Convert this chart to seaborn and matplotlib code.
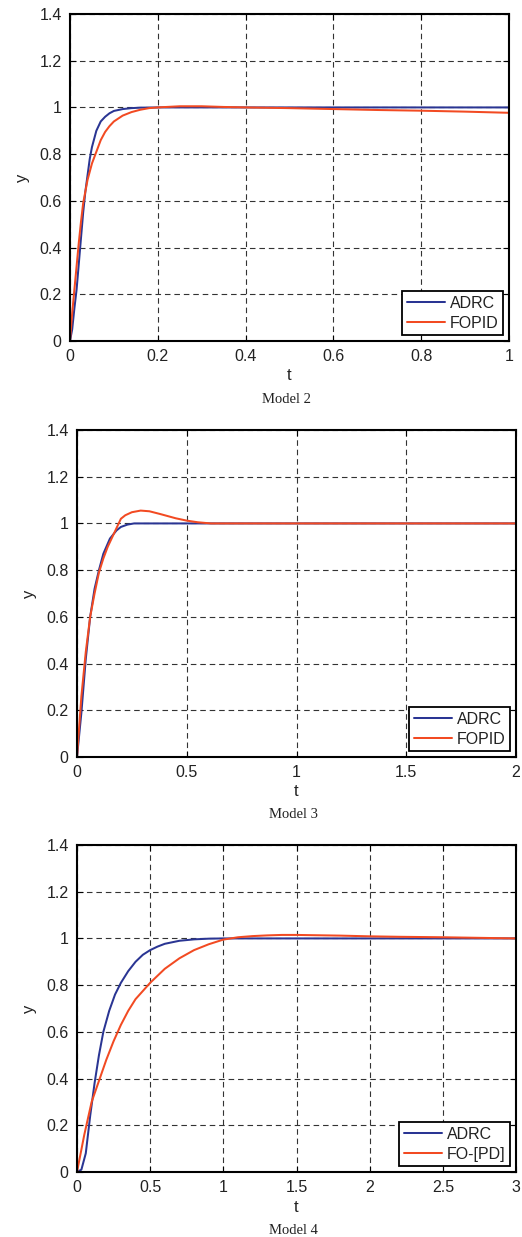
import numpy as np
import pandas as pd
import matplotlib
matplotlib.use("Agg")
import matplotlib.pyplot as plt
import seaborn as sns
from matplotlib.ticker import FormatStrFormatter

# ---------------- data ----------------
# Model 2
m2_t_adrc = [0, 0.005, 0.01, 0.015, 0.02, 0.025, 0.03, 0.035, 0.04, 0.045, 0.05, 0.06, 0.07,
             0.08, 0.09, 0.10, 0.12, 0.14, 0.16, 0.2, 0.3, 0.4, 0.6, 0.8, 1.0]
m2_y_adrc = [0, 0.05, 0.14, 0.22, 0.33, 0.44, 0.55, 0.64, 0.71, 0.78, 0.83, 0.90, 0.94,
             0.96, 0.975, 0.985, 0.993, 0.997, 0.999, 1.0, 1.0, 1.0, 1.0, 1.0, 1.0]
m2_t_fopid = [0, 0.005, 0.01, 0.015, 0.02, 0.025, 0.03, 0.04, 0.05, 0.06, 0.07, 0.08, 0.09,
              0.10, 0.12, 0.14, 0.16, 0.18, 0.2, 0.25, 0.3, 0.35, 0.4, 0.5, 0.6, 0.7, 0.8,
              0.9, 1.0]
m2_y_fopid = [0, 0.12, 0.22, 0.32, 0.42, 0.51, 0.59, 0.69, 0.76, 0.81, 0.86, 0.895, 0.92,
              0.94, 0.965, 0.98, 0.99, 0.997, 1.0, 1.005, 1.005, 1.002, 1.0, 0.997, 0.993,
              0.989, 0.986, 0.982, 0.977]

# Model 3
m3_t_adrc = [0, 0.02, 0.04, 0.06, 0.08, 0.1, 0.12, 0.15, 0.18, 0.2, 0.23, 0.26, 0.3, 0.5,
             1.0, 1.5, 2.0]
m3_y_adrc = [0, 0.19, 0.42, 0.6, 0.72, 0.8, 0.87, 0.935, 0.97, 0.985, 0.995, 1.0, 1.0, 1.0,
             1.0, 1.0, 1.0]
m3_t_fopid = [0, 0.02, 0.04, 0.06, 0.08, 0.1, 0.12, 0.14, 0.16, 0.18, 0.2, 0.22, 0.25, 0.29,
              0.33, 0.38, 0.45, 0.5, 0.55, 0.61, 0.8, 1.0, 1.5, 2.0]
m3_y_fopid = [0, 0.26, 0.45, 0.6, 0.7, 0.79, 0.85, 0.9, 0.94, 0.98, 1.02, 1.035, 1.048,
              1.055, 1.052, 1.04, 1.022, 1.012, 1.005, 1.0, 1.0, 1.0, 1.0, 1.0]

# Model 4
m4_t_adrc = [0, 0.03, 0.06, 0.09, 0.12, 0.15, 0.18, 0.22, 0.26, 0.3, 0.35, 0.4, 0.45, 0.5,
             0.55, 0.6, 0.7, 0.8, 0.9, 1.0, 1.5, 2.0, 2.5, 3.0]
m4_y_adrc = [0, 0.01, 0.08, 0.24, 0.38, 0.5, 0.6, 0.69, 0.76, 0.81, 0.86, 0.9, 0.93, 0.95,
             0.965, 0.977, 0.99, 0.996, 0.999, 1.0, 1.0, 1.0, 1.0, 1.0]
m4_t_fopd = [0, 0.05, 0.1, 0.15, 0.2, 0.25, 0.3, 0.35, 0.4, 0.5, 0.6, 0.7, 0.8, 0.9, 1.0,
             1.1, 1.2, 1.3, 1.4, 1.5, 1.6, 1.8, 2.0, 2.2, 2.5, 2.8, 3.0]
m4_y_fopd = [0, 0.16, 0.3, 0.39, 0.48, 0.56, 0.63, 0.69, 0.74, 0.81, 0.87, 0.915, 0.95,
             0.975, 0.995, 1.005, 1.01, 1.013, 1.015, 1.015, 1.014, 1.012, 1.009, 1.007,
             1.005, 1.002, 1.0]

y_ticks = [0, 0.2, 0.4, 0.6, 0.8, 1.0, 1.2, 1.4]
panels = [
    dict(caption="Model 2", xmax=1.0, xticks=[0, 0.2, 0.4, 0.6, 0.8, 1.0],
         series=[("ADRC", m2_t_adrc, m2_y_adrc), ("FOPID", m2_t_fopid, m2_y_fopid)]),
    dict(caption="Model 3", xmax=2.0, xticks=[0, 0.5, 1.0, 1.5, 2.0],
         series=[("ADRC", m3_t_adrc, m3_y_adrc), ("FOPID", m3_t_fopid, m3_y_fopid)]),
    dict(caption="Model 4", xmax=3.0, xticks=[0, 0.5, 1.0, 1.5, 2.0, 2.5, 3.0],
         series=[("ADRC", m4_t_adrc, m4_y_adrc), ("FO-[PD]", m4_t_fopd, m4_y_fopd)]),
]

# ---------------- style ----------------
sns.set_theme(style="white")
plt.rcParams["font.family"] = ["Liberation Sans", "DejaVu Sans"]

colors = ["#2a3593", "#f24a22"]
W, H = 522, 1237
fig = plt.figure(figsize=(W / 100, H / 100), dpi=100)

# axes rectangles in pixels: (left, top, right, bottom)
rects = [(70, 14, 509, 341), (77, 430, 516, 757), (77, 845, 516, 1172)]
caption_y = [400, 815, 1231]

for p, (l, t, r, b), cy in zip(panels, rects, caption_y):
    ax = fig.add_axes([l / W, 1 - b / H, (r - l) / W, (b - t) / H])
    for (name, xs, ys), c in zip(p["series"], colors):
        df = pd.DataFrame({"t": xs, "y": ys})
        sns.lineplot(data=df, x="t", y="y", ax=ax, color=c, linewidth=1.45,
                     label=name, sort=False)
    ax.set_xlim(0, p["xmax"])
    ax.set_ylim(0, 1.4)
    ax.set_xticks(p["xticks"])
    ax.set_yticks(y_ticks)
    ax.xaxis.set_major_formatter(FormatStrFormatter("%g"))
    ax.yaxis.set_major_formatter(FormatStrFormatter("%g"))
    ax.grid(True, color="0.2", linestyle=(0, (5, 3.5)), linewidth=0.8)
    ax.tick_params(direction="in", length=4, width=0.8, labelsize=11.5, pad=6,
                   top=True, right=True, bottom=True, left=True, colors="black",
                   labelcolor="#222222")
    for s in ax.spines.values():
        s.set_color("black")
        s.set_linewidth(1.5)
    ax.set_xlabel("t", fontsize=12, color="#222222", labelpad=3)
    ax.set_ylabel("y", fontsize=12, color="#222222", labelpad=7)
    leg = ax.legend(loc="lower right", fontsize=11.5, frameon=True, fancybox=False,
                    edgecolor="black", framealpha=1, borderpad=0.3, labelspacing=0.3,
                    handlelength=2.4, handletextpad=0.3, borderaxespad=0.35)
    leg.get_frame().set_linewidth(1.3)
    for txt in leg.get_texts():
        txt.set_color("#222222")
    fig.text(((l + r) / 2 - 3) / W, 1 - cy / H, p["caption"], ha="center", va="center",
             fontsize=10.5, family=["Liberation Serif", "DejaVu Serif"], color="#222222")

fig.savefig("out.png", dpi=100)
